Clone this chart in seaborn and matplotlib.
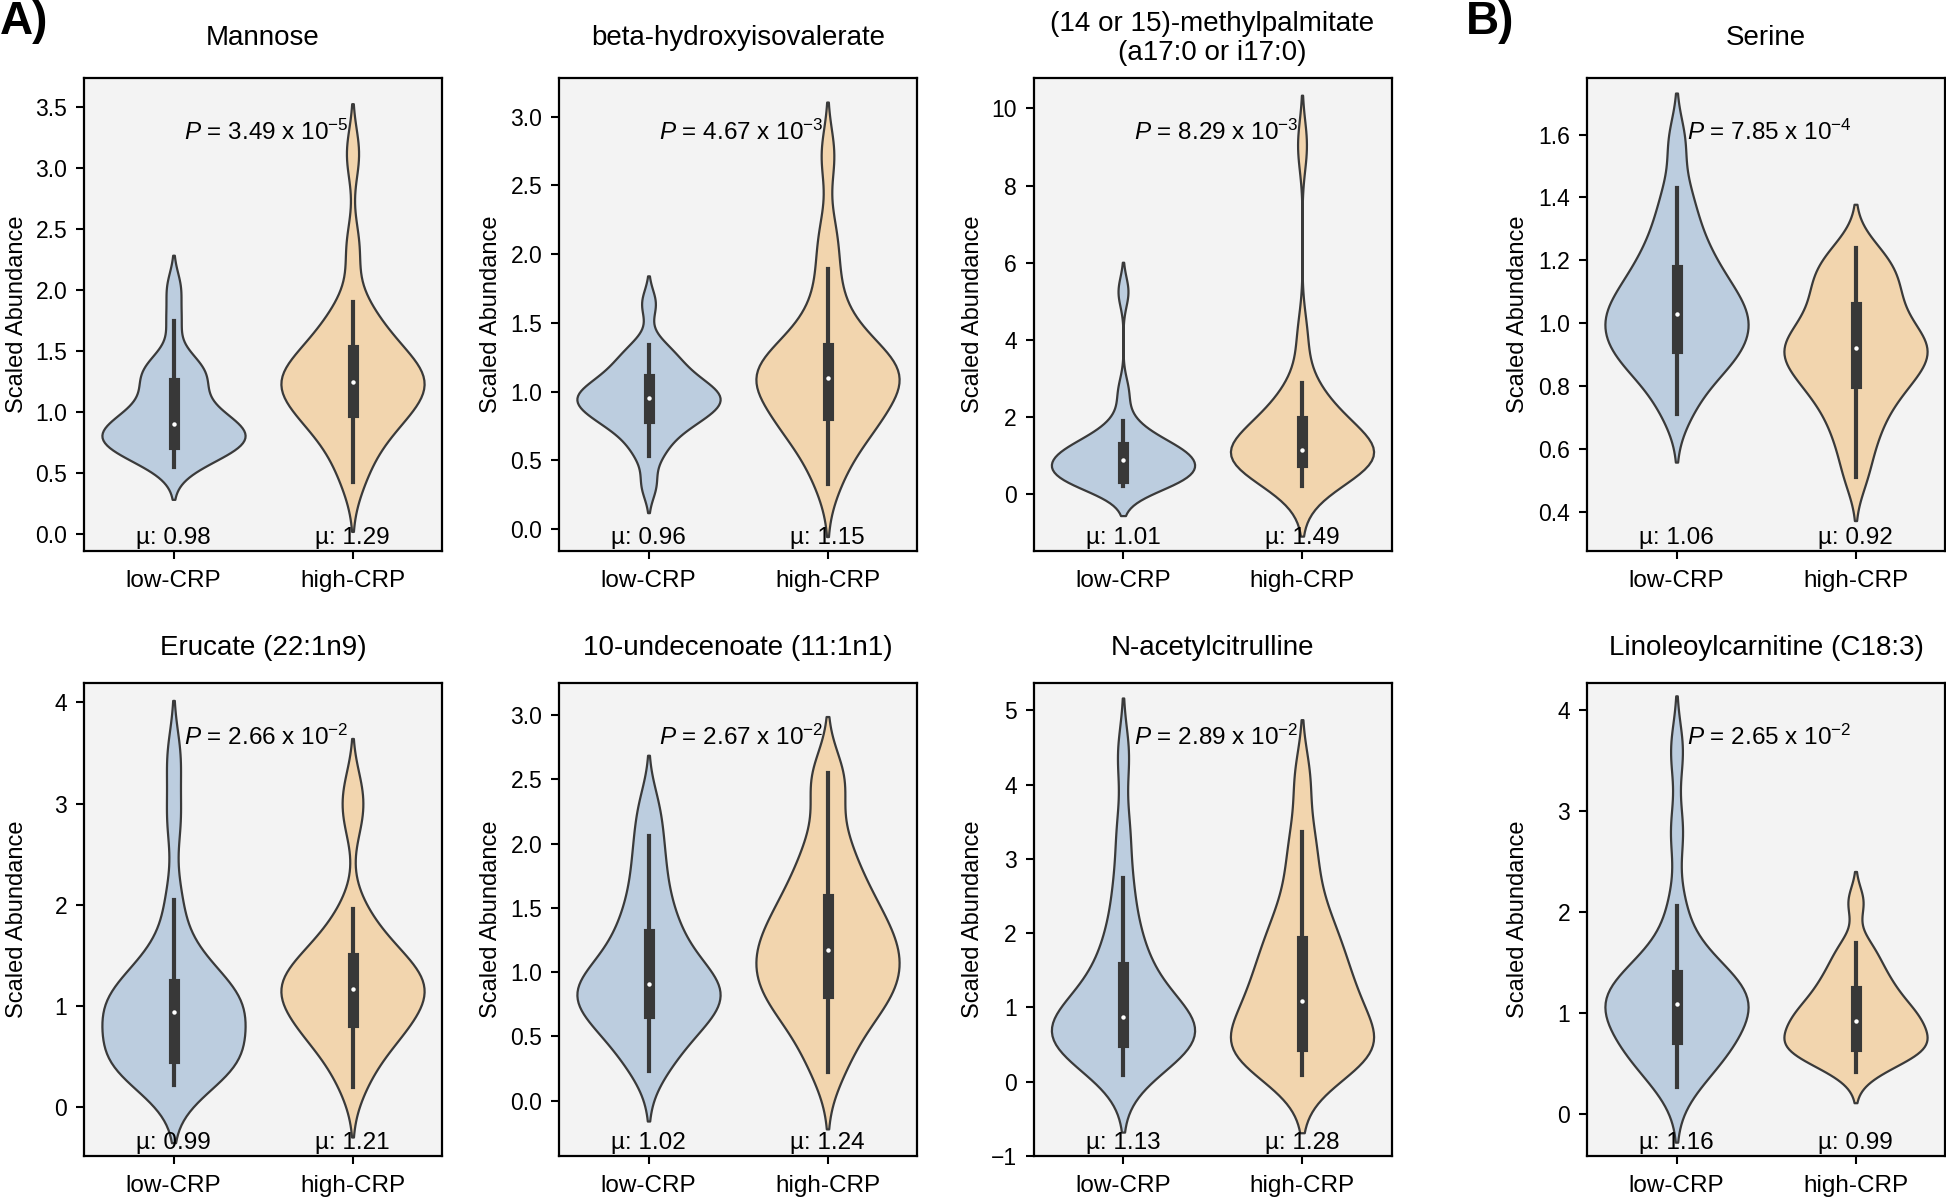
import pandas as pd
import seaborn as sns
import matplotlib.pyplot as plt

plt.rcParams["font.family"] = ["Liberation Sans", "DejaVu Sans"]
plt.rcParams["mathtext.fontset"] = "custom"
plt.rcParams["mathtext.rm"] = "Liberation Sans"
plt.rcParams["mathtext.it"] = "Liberation Sans:italic"

# groups and colours
groups = ["low-CRP", "high-CRP"]
colors = ["#bccddf", "#f2d5ae"]

titles = ["Mannose", "beta-hydroxyisovalerate",
          "(14 or 15)-methylpalmitate\n(a17:0 or i17:0)", "Serine",
          "Erucate (22:1n9)", "10-undecenoate (11:1n1)",
          "N-acetylcitrulline", "Linoleoylcarnitine (C18:3)"]
p_mantissa = ["3.49", "4.67", "8.29", "7.85", "2.66", "2.67", "2.89", "2.65"]
p_exponent = ["-5", "-3", "-3", "-4", "-2", "-2", "-2", "-2"]
mean_low = [0.98, 0.96, 1.01, 1.06, 0.99, 1.02, 1.13, 1.16]
mean_high = [1.29, 1.15, 1.49, 0.92, 1.21, 1.24, 1.28, 0.99]

# scaled abundances
mannose_low = [0.55, 0.62, 0.66, 0.70, 0.72, 0.73, 0.74, 0.78, 0.81, 0.84, 0.86, 0.88, 0.90,
               0.93, 0.97, 1.02, 1.08, 1.15, 1.24, 1.28, 1.33, 1.38, 1.45, 1.75, 2.02]
mannose_high = [0.43, 0.62, 0.75, 0.85, 0.92, 0.97, 1.00, 1.06, 1.12, 1.16, 1.20, 1.23, 1.25,
                1.28, 1.32, 1.36, 1.40, 1.45, 1.51, 1.58, 1.66, 1.75, 1.90, 2.35, 3.12]
bhiv_low = [0.32, 0.53, 0.62, 0.70, 0.75, 0.78, 0.81, 0.84, 0.87, 0.89, 0.91, 0.93, 0.95,
            0.97, 0.99, 1.01, 1.03, 1.06, 1.09, 1.13, 1.18, 1.22, 1.28, 1.34, 1.64]
bhiv_high = [0.33, 0.50, 0.62, 0.70, 0.76, 0.80, 0.83, 0.90, 0.96, 1.01, 1.05, 1.08, 1.10,
             1.13, 1.16, 1.20, 1.24, 1.28, 1.32, 1.40, 1.50, 1.65, 1.89, 2.15, 2.72]
mpalm_low = [0.20, 0.28, 0.34, 0.37, 0.39, 0.40, 0.41, 0.50, 0.60, 0.70, 0.78, 0.84, 0.89,
             0.94, 0.99, 1.04, 1.09, 1.15, 1.21, 1.30, 1.42, 1.60, 1.88, 2.65, 5.25]
mpalm_high = [0.20, 0.40, 0.55, 0.65, 0.72, 0.78, 0.84, 0.90, 0.96, 1.02, 1.07, 1.11, 1.15,
              1.25, 1.38, 1.50, 1.62, 1.75, 1.88, 2.05, 2.25, 2.55, 2.89, 4.10, 9.05]
serine_low = [0.71, 0.78, 0.83, 0.86, 0.88, 0.90, 0.92, 0.94, 0.96, 0.98, 1.00, 1.01, 1.03,
              1.05, 1.07, 1.09, 1.11, 1.14, 1.17, 1.20, 1.24, 1.29, 1.35, 1.43, 1.58]
serine_high = [0.51, 0.60, 0.66, 0.71, 0.75, 0.78, 0.81, 0.83, 0.85, 0.87, 0.89, 0.91, 0.92,
               0.93, 0.95, 0.97, 0.99, 1.02, 1.05, 1.08, 1.11, 1.14, 1.17, 1.20, 1.24]
erucate_low = [0.22, 0.30, 0.36, 0.41, 0.44, 0.47, 0.49, 0.58, 0.66, 0.74, 0.81, 0.88, 0.94,
               0.98, 1.02, 1.07, 1.12, 1.17, 1.22, 1.32, 1.45, 1.62, 2.05, 2.85, 3.45]
erucate_high = [0.20, 0.42, 0.56, 0.66, 0.74, 0.80, 0.84, 0.91, 0.98, 1.04, 1.09, 1.13, 1.17,
                1.21, 1.25, 1.30, 1.35, 1.41, 1.47, 1.55, 1.63, 1.75, 1.96, 2.85, 3.15]
undec_low = [0.23, 0.35, 0.45, 0.54, 0.60, 0.65, 0.68, 0.73, 0.78, 0.82, 0.85, 0.88, 0.91,
             0.95, 1.00, 1.06, 1.13, 1.21, 1.30, 1.40, 1.52, 1.68, 1.86, 2.06, 2.30]
undec_high = [0.22, 0.40, 0.55, 0.65, 0.73, 0.79, 0.84, 0.90, 0.96, 1.02, 1.07, 1.12, 1.17,
              1.23, 1.29, 1.35, 1.42, 1.49, 1.57, 1.67, 1.78, 1.92, 2.10, 2.45, 2.55]
nacit_low = [0.09, 0.22, 0.32, 0.40, 0.46, 0.50, 0.53, 0.60, 0.66, 0.72, 0.77, 0.82, 0.87,
             0.93, 1.00, 1.10, 1.22, 1.37, 1.54, 1.72, 1.95, 2.30, 2.75, 3.40, 4.40]
nacit_high = [0.09, 0.20, 0.28, 0.35, 0.40, 0.44, 0.48, 0.58, 0.68, 0.78, 0.88, 0.98, 1.09,
              1.20, 1.32, 1.45, 1.59, 1.74, 1.89, 2.05, 2.25, 2.55, 2.95, 3.36, 4.10]
lino_low = [0.26, 0.40, 0.50, 0.58, 0.64, 0.70, 0.74, 0.82, 0.90, 0.96, 1.01, 1.05, 1.09,
            1.13, 1.17, 1.22, 1.27, 1.32, 1.37, 1.45, 1.55, 1.70, 2.06, 2.80, 3.60]
lino_high = [0.41, 0.50, 0.56, 0.60, 0.63, 0.65, 0.67, 0.72, 0.76, 0.80, 0.84, 0.88, 0.92,
             0.96, 1.00, 1.04, 1.09, 1.15, 1.22, 1.28, 1.36, 1.45, 1.56, 1.69, 2.10]

low_sets = [mannose_low, bhiv_low, mpalm_low, serine_low,
            erucate_low, undec_low, nacit_low, lino_low]
high_sets = [mannose_high, bhiv_high, mpalm_high, serine_high,
             erucate_high, undec_high, nacit_high, lino_high]

yticks = [[0, 0.5, 1, 1.5, 2, 2.5, 3, 3.5], [0, 0.5, 1, 1.5, 2, 2.5, 3],
          [0, 2, 4, 6, 8, 10], [0.4, 0.6, 0.8, 1.0, 1.2, 1.4, 1.6],
          [0, 1, 2, 3, 4], [0, 0.5, 1, 1.5, 2, 2.5, 3],
          [-1, 0, 1, 2, 3, 4, 5], [0, 1, 2, 3, 4]]
ylims = [(-0.14, 3.74), (-0.16, 3.28), (-1.48, 10.79), (0.275, 1.78),
         (-0.48, 4.19), (-0.43, 3.25), (-1.0, 5.37), (-0.42, 4.27)]

fig = plt.figure(figsize=(19.46, 12), dpi=100)
W, H = 1946, 1200
col_left = [84, 559, 1033.5, 1587]
col_w = 358
row_top = [78, 683]
row_h = 473
label_x = [-0.156, -0.159, -0.138, -0.162]

for i in range(8):
    r, c = divmod(i, 4)
    ax = fig.add_axes([col_left[c] / W, 1 - (row_top[r] + row_h) / H, col_w / W, row_h / H])
    df = pd.DataFrame({
        "group": [groups[0]] * len(low_sets[i]) + [groups[1]] * len(high_sets[i]),
        "value": low_sets[i] + high_sets[i],
    })
    sns.violinplot(data=df, x="group", y="value", hue="group", order=groups,
                   hue_order=groups, palette=colors, saturation=1, linewidth=1.6,
                   linecolor="#3a3a3a", inner="box", bw_adjust=0.7,
                   inner_kws=dict(box_width=8, whis_width=3, color="#383838", marker="o"),
                   legend=False, ax=ax)
    # smaller white median dot
    for ln in ax.lines:
        if ln.get_marker() == "o":
            ln.set_markersize(3.2)
            ln.set_markeredgewidth(0)
    ax.set_facecolor("#f3f3f3")
    ax.set_xlim(-0.5, 1.5)
    ax.set_ylim(*ylims[i])
    ax.set_yticks(yticks[i])
    ax.set_xlabel("")
    ax.set_ylabel("Scaled Abundance", fontsize=17)
    ax.yaxis.set_label_coords(label_x[c], 0.5)
    for s in ax.spines.values():
        s.set_linewidth(1.6)
        s.set_color("black")
    ax.tick_params(direction="out", length=6, width=1.5, labelsize=16.5, pad=6)
    ax.tick_params(axis="x", labelsize=17.5, pad=8)
    ax.set_title(titles[i], fontsize=20, y=1.084 if r == 0 else 1.075,
                 va="center", pad=0, linespacing=1.15)
    ax.text(0.52, 0.885, rf"$P$ = {p_mantissa[i]} x 10$^{{{p_exponent[i]}}}$",
            transform=ax.get_xaxis_transform(), ha="center", va="center", fontsize=17.5)
    ax.text(0, 0.005, f"µ: {mean_low[i]:.2f}", transform=ax.get_xaxis_transform(),
            ha="center", va="bottom", fontsize=17.5)
    ax.text(1, 0.005, f"µ: {mean_high[i]:.2f}", transform=ax.get_xaxis_transform(),
            ha="center", va="bottom", fontsize=17.5)

fig.text(0.0, 1 - 22 / H, "A)", fontsize=33, fontweight="bold", ha="left", va="center")
fig.text(1466 / W, 1 - 22 / H, "B)", fontsize=33, fontweight="bold", ha="left", va="center")

fig.savefig("out.png", dpi=100)
